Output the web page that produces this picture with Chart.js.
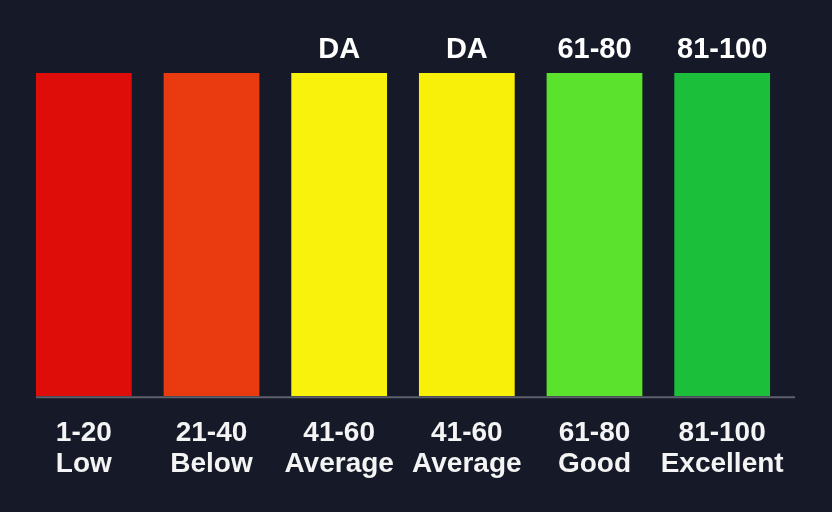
<!DOCTYPE html>
<html>
<head>
<meta charset="utf-8">
<script src="https://cdn.jsdelivr.net/npm/chart.js@4"></script>
<style>
  html, body { margin: 0; padding: 0; background: #161a28; }
  #wrap { width: 832px; height: 512px; position: relative; }
</style>
</head>
<body>
<div id="wrap"><canvas id="grafica"></canvas></div>
<script>
const ranges = ['1-20', '21-40', '41-60', '41-60', '61-80', '81-100']
const names = ['Low', 'Below', 'Average', 'Average', 'Good', 'Excellent']
const topLabels = ['', '', 'DA', 'DA', '61-80', '81-100']
const values = [100, 100, 100, 100, 100, 100]
const colors = ['#df0d09', '#ea3a10', '#f8f20c', '#f9f00a', '#5be22c', '#1cbf3a']

const labels = ranges.map((r, i) => [r, names[i]])

// etiquetas arriba de las barras + linea base
const extras = {
    id: 'extras',
    afterDatasetsDraw(chart) {
        const ctx = chart.ctx
        const bars = chart.getDatasetMeta(0).data
        const area = chart.chartArea
        ctx.save()
        ctx.strokeStyle = '#5b606b'
        ctx.lineWidth = 2
        ctx.beginPath()
        ctx.moveTo(bars[0].x - bars[0].width / 2, area.bottom + 1)
        ctx.lineTo(area.right + 9, area.bottom + 1)
        ctx.stroke()

        ctx.fillStyle = '#ffffff'
        ctx.font = 'bold 29px "Liberation Sans", Arial, sans-serif'
        ctx.textAlign = 'center'
        ctx.textBaseline = 'middle'
        bars.forEach((bar, i) => {
            if (topLabels[i]) ctx.fillText(topLabels[i], bar.x, bar.y - 23)
        })
        ctx.restore()
    }
}

const graph = document.querySelector('#grafica')

new Chart(graph, {
    type: 'bar',
    data: {
        labels: labels,
        datasets: [{
            data: values,
            backgroundColor: colors,
            borderWidth: 0,
            barPercentage: 0.75,
            categoryPercentage: 1
        }]
    },
    options: {
        responsive: true,
        maintainAspectRatio: false,
        animation: false,
        layout: { padding: { top: 73, left: 20, right: 46, bottom: 11 } },
        plugins: { legend: { display: false }, tooltip: { enabled: false } },
        scales: {
            x: {
                grid: { display: false, drawTicks: false },
                border: { display: false },
                ticks: {
                    color: '#f4f4f4',
                    padding: 21,
                    maxRotation: 0,
                    autoSkip: false,
                    font: { family: '"Liberation Sans", Arial, sans-serif', size: 28, weight: 'bold', lineHeight: 1.12 }
                }
            },
            y: {
                display: false,
                min: 0,
                max: 100
            }
        }
    },
    plugins: [extras]
})
</script>
</body>
</html>
